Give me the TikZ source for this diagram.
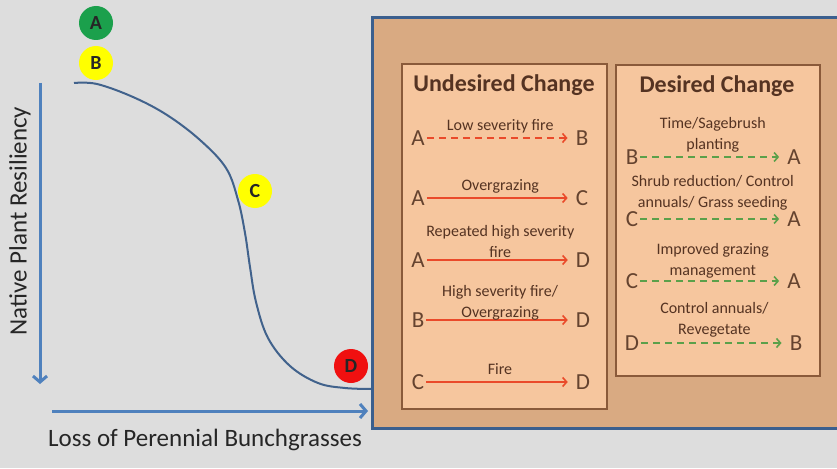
\documentclass[tikz,border=0pt]{standalone}
\usepackage{fontspec}
\setmainfont{Carlito}
\usetikzlibrary{arrows.meta}
\definecolor{bgGray}{HTML}{DDDDDD}
\definecolor{tanOut}{HTML}{D9AA82}
\definecolor{tanIn}{HTML}{F6C69E}
\definecolor{boxLine}{HTML}{8A5A3A}
\definecolor{frameBlue}{HTML}{3B5F8E}
\definecolor{axisBlue}{HTML}{4F81BD}
\definecolor{curveBlue}{HTML}{41628C}
\definecolor{txtBrown}{HTML}{553322}
\definecolor{ltrBrown}{HTML}{65432F}
\definecolor{redArr}{HTML}{EA4A2A}
\definecolor{greenArr}{HTML}{5BA04A}
\definecolor{stGreen}{HTML}{1BA04C}
\definecolor{stYellow}{HTML}{FFFF00}
\definecolor{stRed}{HTML}{F01010}
\tikzset{
    ST/.style ={circle,minimum size = 34pt, inner sep=0pt, font=\fontsize{20}{22}\selectfont\bfseries, text=black!85},
    BX/.style ={draw=boxLine, line width=1.5pt, fill=tanIn},
    LT/.style ={inner sep=2pt, text=ltrBrown, font=\fontsize{23}{25}\selectfont},
    TT/.style ={text=txtBrown, font=\fontsize{24}{26}\selectfont\bfseries},
    LB/.style ={midway, above, align=center, inner sep=1pt, text depth=6pt, text=txtBrown, font=\fontsize{16}{20.5}\selectfont},
    UA/.style ={draw=redArr, line width=1.6pt, shorten >=6pt, -{Straight Barb[length=4pt,width=9pt]}},
    DA/.style ={draw=greenArr, line width=1.6pt, dash pattern=on 7pt off 5pt, shorten >=6pt, -{Straight Barb[length=4pt,width=9pt]}},
    AX/.style ={draw=axisBlue, line width=3pt, -{Straight Barb[length=6pt,width=14pt]}},
    AL/.style ={text=black!85, font=\fontsize{25}{27}\selectfont}}
\begin{document}
\begin{tikzpicture}[x=1pt,y=-1pt]
        \fill[bgGray] (0,0) rectangle (837,468);
        \useasboundingbox (0,0) rectangle (837,468);
        % curve and axes
        \draw[curveBlue, line width=2pt] plot[smooth, tension=0.6] coordinates {(74,83) (97,84) (133,97) (167,115) (200,140) (226,168) (238,200) (245,233) (250,267) (256,302) (268,338) (290,366) (318,383) (345,388) (372,389)};
        \coordinate (y0) at (40,83);
        \coordinate (y1) at (40,384);
        \coordinate (x0) at (52,411);
        \coordinate (x1) at (368,411);
        \draw[AX] (y0) -- (y1);
        \draw[AX] (x0) -- (x1);
        \node[AL, rotate=90] (ylab) at (20,221) {Native Plant Resiliency};
        \node[AL] (xlab) at (205,440) {Loss of Perennial Bunchgrasses};
        % states
        \node[ST, fill=stGreen] (sa) at (96,23) {A};
        \node[ST, fill=stYellow] (sb) at (96,63) {B};
        \node[ST, fill=stYellow] (sc) at (255,191) {C};
        \node[ST, fill=stRed] (sd) at (351,366) {D};
        % boxes
        \draw[frameBlue, line width=3pt, fill=tanOut] (372,18) rectangle (850,428);
        \draw[BX] (402,64) rectangle (607,409);
        \draw[BX] (616,65) rectangle (820,376);
        \node[TT] (t1) at (504,85) {Undesired Change};
        \node[TT] (t2) at (717,86) {Desired Change};
        % undesired change
        \node[LT] (u1a) at (418,138) {A};
        \node[LT] (u1b) at (582,138) {B};
        \node[LT] (u2a) at (418,198) {A};
        \node[LT] (u2b) at (582,198) {C};
        \node[LT] (u3a) at (418,260) {A};
        \node[LT] (u3b) at (583,260) {D};
        \node[LT] (u4a) at (418,320) {B};
        \node[LT] (u4b) at (583,320) {D};
        \node[LT] (u5a) at (418,382) {C};
        \node[LT] (u5b) at (583,382) {D};
        \draw[UA, dash pattern=on 7pt off 5pt] (u1a) -- (u1b) node[LB]{Low severity fire};
        \draw[UA] (u2a) -- (u2b) node[LB]{Overgrazing};
        \draw[UA] (u3a) -- (u3b) node[LB, yshift=-5pt]{Repeated high severity\\fire};
        \draw[UA] (u4a) -- (u4b) node[LB, yshift=-5pt]{High severity fire/\\Overgrazing};
        \draw[UA] (u5a) -- (u5b) node[LB]{Fire};
        % desired change
        \node[LT] (d1a) at (632,157) {B};
        \node[LT] (d1b) at (794,157) {A};
        \node[LT] (d2a) at (632,219) {C};
        \node[LT] (d2b) at (794,219) {A};
        \node[LT] (d3a) at (632,281) {C};
        \node[LT] (d3b) at (794,281) {A};
        \node[LT] (d4a) at (632,343) {D};
        \node[LT] (d4b) at (796,343) {B};
        \draw[DA] (d1a) -- (d1b) node[LB]{Time/Sagebrush\\planting};
        \draw[DA] (d2a) -- (d2b) node[LB, yshift=4pt]{Shrub reduction/ Control\\annuals/ Grass seeding};
        \draw[DA] (d3a) -- (d3b) node[LB, yshift=-2pt]{Improved grazing\\management};
        \draw[DA] (d4a) -- (d4b) node[LB, yshift=1pt]{Control annuals/\\Revegetate};
    \end{tikzpicture}
\end{document}
